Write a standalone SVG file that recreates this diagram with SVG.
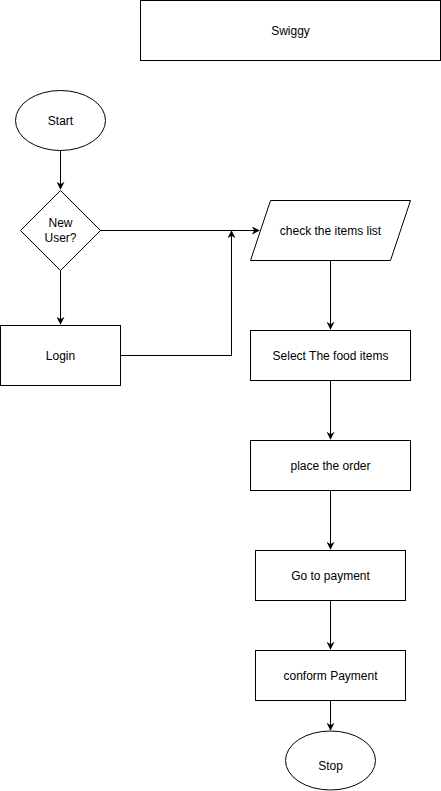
<svg xmlns="http://www.w3.org/2000/svg" width="441" height="791" viewBox="0 0 441 791">
<defs>
<style>
.s{fill:#fff;stroke:#000;stroke-width:1}
.t{font-family:"Liberation Sans",Arial,sans-serif;font-size:12px;fill:#000;text-anchor:middle;dominant-baseline:central}
.c{fill:none;stroke:#000;stroke-width:1}
</style>
<marker id="a" viewBox="0 0 10 10" refX="9" refY="5" markerWidth="8" markerHeight="8" markerUnits="userSpaceOnUse" orient="auto">
<path d="M0,0 L10,5 L0,10 L3,5 Z" fill="#000"/>
</marker>
</defs>
<rect width="441" height="791" fill="#fff"/>
<g id="connectors">
<path class="c" d="M60.5,150 L60.5,189" marker-end="url(#a)"/>
<path class="c" d="M60.5,270 L60.5,324" marker-end="url(#a)"/>
<path class="c" d="M100,230.5 L259,230.5" marker-end="url(#a)"/>
<path class="c" d="M120,355.5 L231.5,355.5 L231.5,231" marker-end="url(#a)"/>
<path class="c" d="M330.5,260 L330.5,329" marker-end="url(#a)"/>
<path class="c" d="M330.5,380 L330.5,439" marker-end="url(#a)"/>
<path class="c" d="M330.5,490 L330.5,549" marker-end="url(#a)"/>
<path class="c" d="M330.5,600 L330.5,649" marker-end="url(#a)"/>
<path class="c" d="M330.5,700 L330.5,730" marker-end="url(#a)"/>
</g>
<g id="swiggy"><rect class="s" x="140.5" y="0.5" width="300" height="60"/><text class="t" x="290.5" y="30.5">Swiggy</text></g>
<g id="start"><ellipse class="s" cx="60.5" cy="120.5" rx="45" ry="30"/><text class="t" x="60.5" y="120.5">Start</text></g>
<g id="newuser"><path class="s" d="M60.5,190.5 L100.5,230.5 L60.5,270.5 L20.5,230.5 Z"/><text class="t" x="60.5" y="223">New</text><text class="t" x="60.5" y="238">User?</text></g>
<g id="login"><rect class="s" x="0.5" y="325.5" width="120" height="60"/><text class="t" x="60.5" y="355.5">Login</text></g>
<g id="checklist"><path class="s" d="M270.5,200.5 L410.5,200.5 L390.5,260.5 L250.5,260.5 Z"/><text class="t" x="330.5" y="230.5">check the items list</text></g>
<g id="select"><rect class="s" x="250.5" y="330.5" width="160" height="50"/><text class="t" x="330.5" y="355.5">Select The food items</text></g>
<g id="place"><rect class="s" x="250.5" y="440.5" width="160" height="50"/><text class="t" x="330.5" y="465.5">place the order</text></g>
<g id="gopay"><rect class="s" x="255.5" y="550.5" width="150" height="50"/><text class="t" x="330.5" y="575.5">Go to payment</text></g>
<g id="conform"><rect class="s" x="255.5" y="650.5" width="150" height="50"/><text class="t" x="330.5" y="675.5">conform Payment</text></g>
<g id="stop"><ellipse class="s" cx="330.5" cy="760.5" rx="45" ry="29.5"/><text class="t" x="330.5" y="765.5">Stop</text></g>
</svg>
